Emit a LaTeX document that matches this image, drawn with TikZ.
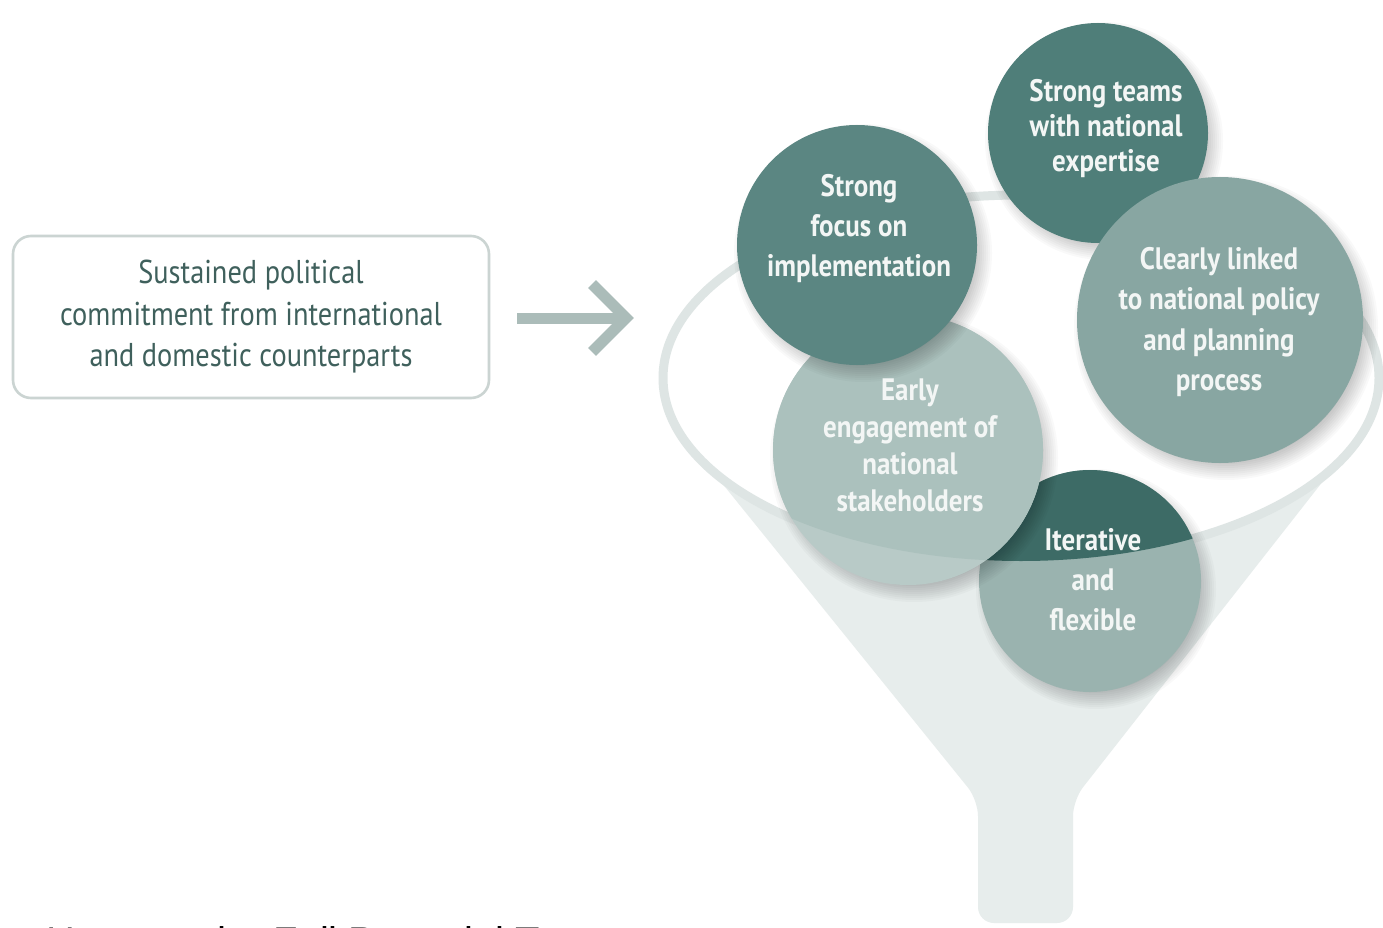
\documentclass[tikz,border=0pt]{standalone}
\usepackage{fontspec}
\setmainfont{PT Sans}[FakeStretch=0.86]
\newfontfamily\bubblefont{PT Sans}[FakeStretch=0.87]
\newfontfamily\capfont{Liberation Sans}
\usetikzlibrary{calc}
\definecolor{boxtext}{HTML}{3F605C}
\definecolor{boxline}{HTML}{CBD4D2}
\definecolor{arrowc}{HTML}{ABBCB9}
\definecolor{ringc}{HTML}{DEE5E4}
\definecolor{conec}{HTML}{E7EDEC}
\definecolor{cA}{HTML}{4F7E79}
\definecolor{cB}{HTML}{5B8682}
\definecolor{cC}{HTML}{88A6A2}
\definecolor{cD}{HTML}{ABC1BD}
\definecolor{cDout}{HTML}{B8CAC7}
\definecolor{cEin}{HTML}{3D6B66}
\definecolor{cEout}{HTML}{9AB3AF}
\definecolor{ctextc}{HTML}{F3F6F5}
\newcommand{\softshadow}[3]{%
  \foreach \k in {0,...,9}{%
    \fill[black, opacity=0.022] (#1+6,#2+8) circle[radius=#3+9-2*\k];}}
\begin{document}
\begin{tikzpicture}[x=1pt,y=-1pt,
  boxnode/.style={draw=boxline, line width=2.6pt, rounded corners=18pt,
    minimum width=476pt, minimum height=162pt, align=center, text=boxtext,
    font=\fontsize{33}{41.5}\selectfont, inner sep=0pt},
  bubble/.style={circle, inner sep=0pt, minimum size=#1},
  ctext/.style={align=center, text=ctextc, inner sep=0pt,
    font=\bubblefont\bfseries\fontsize{31}{#1}\selectfont},
  arrowline/.style={line width=11pt, draw=arrowc},
  funnellip/.style={draw=ringc, line width=9pt},
]
\useasboundingbox (0,0) rectangle (1383,928);
\fill[white] (0,0) rectangle (1383,928);

% input box and arrow
\node[boxnode] (commit) at (251,317)
  {Sustained political\\commitment from international\\and domestic counterparts};
\coordinate (arrS) at ($(commit.east)+(27,1)$);
\coordinate (arrE) at (626,318);
\draw[arrowline] (arrS) -- ($(arrE)+(-4,0)$);
\draw[arrowline, line join=miter] ($(arrE)+(-34,-34)$) -- (arrE) -- ($(arrE)+(-34,34)$);

% funnel
\fill[conec, rounded corners=16pt] (675,425) -- (978,800) -- (978,923)
  -- (1073,923) -- (1073,800) -- (1367,425) -- cycle;
\fill[conec] (675,425) -- (1021,425) -- (1367,425) -- (1021,560) -- cycle;
\fill[white] (1021,378) ellipse [x radius=358, y radius=183];
\draw[funnellip] (1021,378) ellipse [x radius=358, y radius=183];

% E: Iterative and flexible
\softshadow{1090}{581}{111}
\node[bubble=222pt, fill=cEout] (E) at (1090,581) {};
\begin{scope}
  \clip (1021,378) ellipse [x radius=358, y radius=183];
  \fill[cEin] (1090,581) circle[radius=111];
\end{scope}

% D: Early engagement
\softshadow{908}{450}{135}
\node[bubble=270pt, fill=cDout] (D) at (908,450) {};
\begin{scope}
  \clip (1021,378) ellipse [x radius=358, y radius=183];
  \fill[cD] (908,450) circle[radius=135];
\end{scope}

% B: Strong focus
\softshadow{857}{245}{120}
\node[bubble=240pt, fill=cB] (B) at (857,245) {};

% A: Strong teams
\softshadow{1098}{133}{110}
\node[bubble=220pt, fill=cA] (A) at (1098,133) {};

% C: Clearly linked
\softshadow{1220}{320}{143}
\node[bubble=286pt, fill=cC] (C) at (1220,320) {};

% texts
\node[ctext=35] (tA) at (1106,129) {Strong teams\\with national\\expertise};
\node[ctext=40] (tB) at (859,229) {Strong\\focus on\\implementation};
\node[ctext=40.5] (tC) at (1219,322) {Clearly linked\\to national policy\\and planning\\process};
\node[ctext=37] (tD) at (910,445) {Early\\engagement of\\national\\stakeholders};
\node[ctext=40] (tE) at (1093,580) {Iterative\\and\\flexible};

% cut-off caption at the bottom edge
\begin{scope}
  \clip (0,0) rectangle (1383,928);
  \node[anchor=base west, inner sep=0pt, font=\capfont\fontsize{40}{48}\selectfont]
    (caption) at (2,955) {to Harness the Full Potential To};
\end{scope}
\end{tikzpicture}
\end{document}
